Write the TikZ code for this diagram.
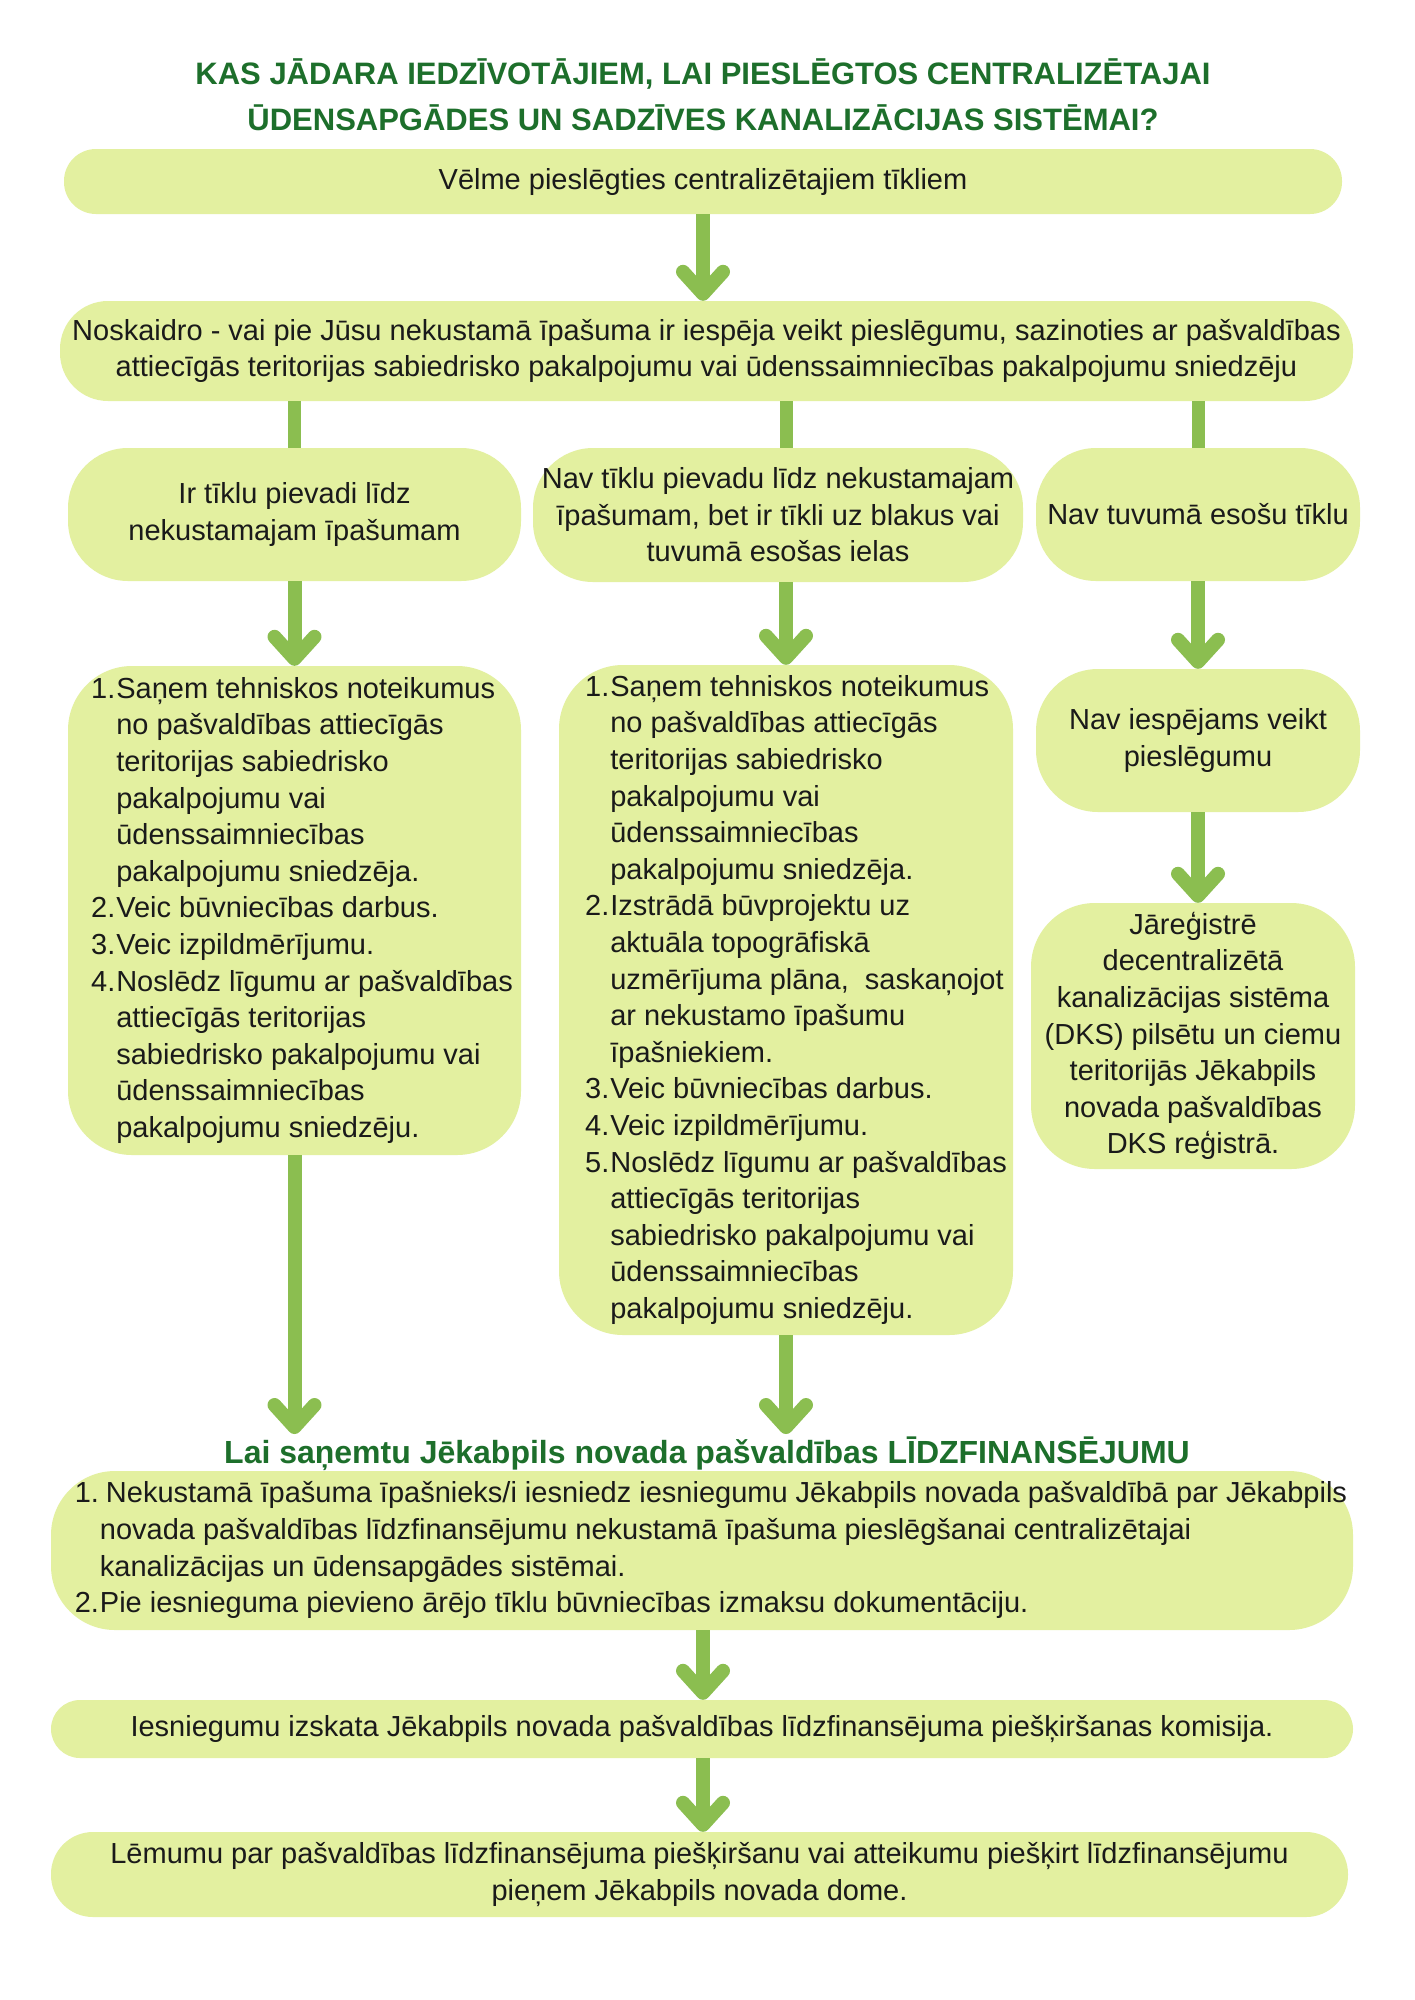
\documentclass[tikz,border=0pt]{standalone}
\usepackage{fontspec}
\setmainfont{Liberation Sans}
\usetikzlibrary{arrows.meta}
\definecolor{boxfill}{HTML}{E3F0A0}
\definecolor{arrowc}{HTML}{8BBE50}
\definecolor{titlec}{HTML}{1D6F2B}
\definecolor{textc}{HTML}{1A1A1A}
\newcommand\bodyfont{\fontsize{29}{36.6}\selectfont}
\newcommand\ttlfont{\fontsize{31}{46}\selectfont\bfseries}
\newcommand\subfont{\fontsize{32}{40}\selectfont\bfseries}
\begin{document}
\begin{tikzpicture}[x=1pt,y=-1pt,
  box/.style={fill=boxfill, inner sep=0pt, text=textc, font=\bodyfont, align=center},
  conn/.style={draw=arrowc, line width=14pt, -{Straight Barb[length=22pt,width=40pt,round]}},
  link/.style={draw=arrowc, line width=13pt},
  ttl/.style={text=titlec, anchor=base, inner sep=0pt}]
\fill[white] (0,0) rectangle (1415,2000);
\useasboundingbox (0,0) rectangle (1415,2000);

\node[ttl, font=\ttlfont] (t1) at (703,84) {KAS JĀDARA IEDZĪVOTĀJIEM, LAI PIESLĒGTOS CENTRALIZĒTAJAI};
\node[ttl, font=\ttlfont] (t2) at (703,130) {ŪDENSAPGĀDES UN SADZĪVES KANALIZĀCIJAS SISTĒMAI?};

\node[box, minimum width=1278pt, minimum height=65pt, rounded corners=32pt] (b1) at (703,181.5) {Vēlme pieslēgties centralizētajiem tīkliem};
\node[box, minimum width=1293pt, minimum height=100pt, rounded corners=48pt] (b2) at (706.5,351) {Noskaidro - vai pie Jūsu nekustamā īpašuma ir iespēja veikt pieslēgumu, sazinoties ar pašvaldības\\attiecīgās teritorijas sabiedrisko pakalpojumu vai ūdenssaimniecības pakalpojumu sniedzēju};

\node[box, minimum width=453pt, minimum height=133pt, rounded corners=60pt] (a1) at (294.5,514.5) {Ir tīklu pievadi līdz\\nekustamajam īpašumam};
\node[box, minimum width=490pt, minimum height=134pt, rounded corners=60pt] (m1) at (778,515) {Nav tīklu pievadu līdz nekustamajam\\īpašumam, bet ir tīkli uz blakus vai\\tuvumā esošas ielas};
\node[box, minimum width=324pt, minimum height=133pt, rounded corners=60pt] (c1) at (1198,514.5) {Nav tuvumā esošu tīklu};

\node[box, minimum width=453pt, minimum height=489pt, rounded corners=64pt] (a2) at (294.5,910.5) {\begin{tabular}{@{\hspace{15pt}}r@{\hspace{1pt}}l@{}}
1.&Saņem tehniskos noteikumus\\
&no pašvaldības attiecīgās\\
&teritorijas sabiedrisko\\
&pakalpojumu vai\\
&ūdenssaimniecības\\
&pakalpojumu sniedzēja.\\
2.&Veic būvniecības darbus.\\
3.&Veic izpildmērījumu.\\
4.&Noslēdz līgumu ar pašvaldības\\
&attiecīgās teritorijas\\
&sabiedrisko pakalpojumu vai\\
&ūdenssaimniecības\\
&pakalpojumu sniedzēju.
\end{tabular}};

\node[box, minimum width=454pt, minimum height=670pt, rounded corners=64pt] (m2) at (786,1000) {\begin{tabular}{@{\hspace{20pt}}r@{\hspace{1pt}}l@{}}
1.&Saņem tehniskos noteikumus\\
&no pašvaldības attiecīgās\\
&teritorijas sabiedrisko\\
&pakalpojumu vai\\
&ūdenssaimniecības\\
&pakalpojumu sniedzēja.\\
2.&Izstrādā būvprojektu uz\\
&aktuāla topogrāfiskā\\
&uzmērījuma plāna,\ \ saskaņojot\\
&ar nekustamo īpašumu\\
&īpašniekiem.\\
3.&Veic būvniecības darbus.\\
4.&Veic izpildmērījumu.\\
5.&Noslēdz līgumu ar pašvaldības\\
&attiecīgās teritorijas\\
&sabiedrisko pakalpojumu vai\\
&ūdenssaimniecības\\
&pakalpojumu sniedzēju.
\end{tabular}};

\node[box, minimum width=324pt, minimum height=143pt, rounded corners=62pt] (c2) at (1198,740.5) {Nav iespējams veikt\\pieslēgumu};
\node[box, minimum width=324pt, minimum height=266pt, rounded corners=64pt] (c3) at (1193,1036) {Jāreģistrē\\decentralizētā\\kanalizācijas sistēma\\(DKS) pilsētu un ciemu\\teritorijās Jēkabpils\\novada pašvaldības\\DKS reģistrā.};

\node[ttl, font=\subfont] (sub) at (707,1463) {Lai saņemtu Jēkabpils novada pašvaldības LĪDZFINANSĒJUMU};
\coordinate (subtop) at (707,1434);

\node[box, minimum width=1302pt, minimum height=159pt, rounded corners=64pt] (d) at (702,1550.5) {\begin{tabular}{@{\hspace{18pt}}r@{\hspace{1pt}}l@{}}
1.&\hspace{6pt}Nekustamā īpašuma īpašnieks/i iesniedz iesniegumu Jēkabpils novada pašvaldībā par Jēkabpils\\
&novada pašvaldības līdzfinansējumu nekustamā īpašuma pieslēgšanai centralizētajai\\
&kanalizācijas un ūdensapgādes sistēmai.\\
2.&Pie iesnieguma pievieno ārējo tīklu būvniecības izmaksu dokumentāciju.
\end{tabular}};
\node[box, minimum width=1302pt, minimum height=58pt, rounded corners=29pt] (e) at (702,1729) {Iesniegumu izskata Jēkabpils novada pašvaldības līdzfinansējuma piešķiršanas komisija.};
\node[box, minimum width=1297pt, minimum height=85pt, rounded corners=42pt] (f) at (699.5,1874.5) {Lēmumu par pašvaldības līdzfinansējuma piešķiršanu vai atteikumu piešķirt līdzfinansējumu\\pieņem Jēkabpils novada dome.};

% connectors
\draw[conn] (b1.south) -- (b1.south |- b2.north);
\draw[link] (b2.south -| a1) -- (a1.north);
\draw[link] (b2.south -| m2) -- (m1.north -| m2);
\draw[link] (b2.south -| c1) -- (c1.north);
\draw[conn] (a1.south) -- (a2.north);
\draw[conn] (m1.south -| m2) -- (m2.north);
\draw[conn] (c1.south) -- (c2.north);
\draw[conn] (c2.south -| c1) -- (c3.north -| c1);
\draw[conn] (a2.south) -- (a2.south |- subtop);
\draw[conn] (m2.south) -- (m2.south |- subtop);
\draw[conn] (d.south -| b1) -- (e.north -| b1);
\draw[conn] (e.south -| b1) -- (f.north -| b1);
\end{tikzpicture}
\end{document}
